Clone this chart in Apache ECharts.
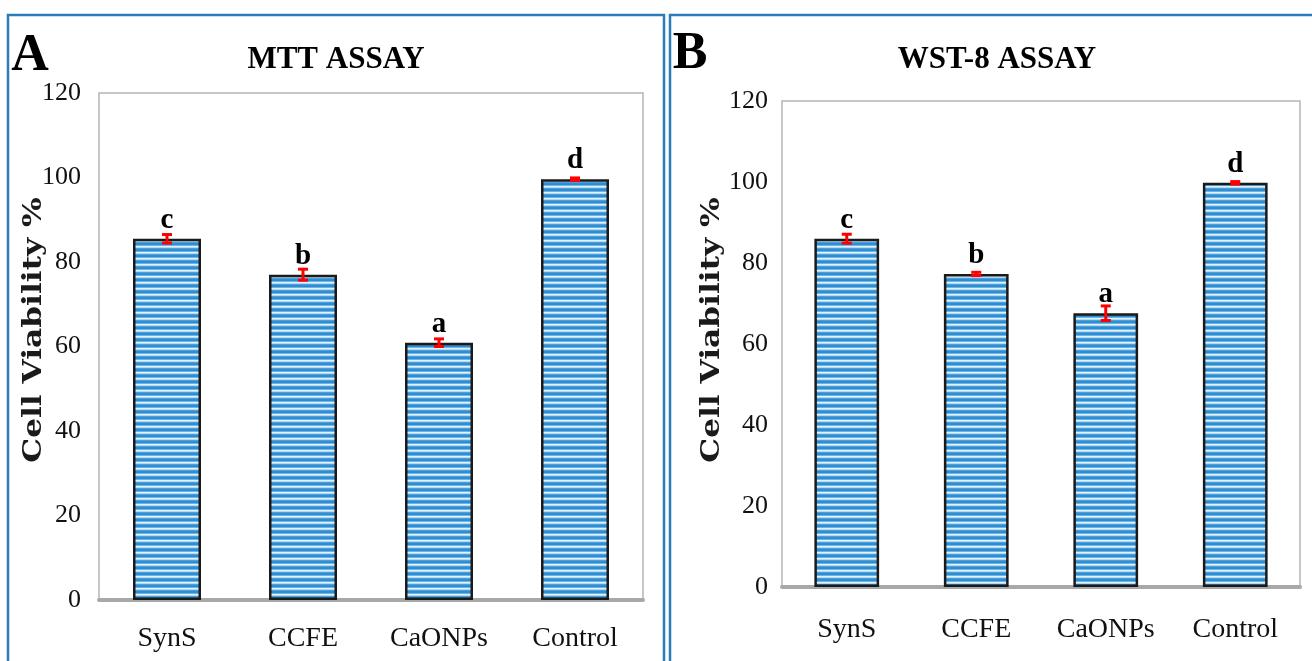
<!DOCTYPE html>
<html>
<head>
<meta charset="utf-8">
<script src="https://cdn.jsdelivr.net/npm/echarts@6/dist/echarts.min.js"></script>
<style>
html,body{margin:0;padding:0;background:#fff;}
#chart{width:1312px;height:661px;}
</style>
</head>
<body>
<div id="chart"></div>
<script>
// ---- data ----
var categories = ['SynS', 'CCFE', 'CaONPs', 'Control'];
var mttValues  = [85.5, 77.0, 60.9, 99.6];
var mttErrors  = [1.0, 1.3, 0.9, 0.3];
var mttLetters = ['c', 'b', 'a', 'd'];
var wstValues  = [86.0, 77.3, 67.6, 99.8];
var wstErrors  = [1.1, 0.4, 1.8, 0.3];
var wstLetters = ['c', 'b', 'a', 'd'];
var yMin = 0, yMax = 120, yStep = 20;
var panelTitles = ['MTT ASSAY', 'WST-8 ASSAY'];
var panelTags = ['A', 'B'];
var yTitle = 'Cell Viability %';

function makePattern() {
  var c = document.createElement('canvas');
  c.width = 4; c.height = 6;
  var g = c.getContext('2d');
  var rows = ['#e2f1fb', '#b2d9f2', '#4c9fda', '#2f8dd1', '#2f8dd1', '#6db3e3'];
  for (var i = 0; i < rows.length; i++) { g.fillStyle = rows[i]; g.fillRect(0, i, 4, 1); }
  return c;
}
var pattern = makePattern();

var serif = "'Liberation Serif', 'Times New Roman', serif";

function errRender(params, api) {
  var x = api.value(0), v = api.value(1), e = api.value(2);
  var t = api.coord([x, v + e]);
  var b = api.coord([x, v - e]);
  var hw = 5;
  var st = { stroke: '#ff0000', lineWidth: 3 };
  return {
    type: 'group',
    children: [
      { type: 'line', shape: { x1: t[0], y1: t[1], x2: b[0], y2: b[1] }, style: st },
      { type: 'line', shape: { x1: t[0] - hw, y1: t[1], x2: t[0] + hw, y2: t[1] }, style: st },
      { type: 'line', shape: { x1: b[0] - hw, y1: b[1], x2: b[0] + hw, y2: b[1] }, style: st }
    ]
  };
}

function yAxisCfg(gi, margin) {
  return {
    type: 'value', gridIndex: gi, min: yMin, max: yMax, interval: yStep,
    axisLine: { show: false }, axisTick: { show: false }, splitLine: { show: false },
    axisLabel: { fontFamily: serif, fontSize: 26, color: '#111', margin: margin }
  };
}
function xAxisCfg(gi, margin) {
  return {
    type: 'category', gridIndex: gi, data: categories,
    axisLine: { lineStyle: { color: '#a8a8a8', width: 4 } },
    axisTick: { show: false },
    axisLabel: { fontFamily: serif, fontSize: 28, color: '#111', margin: margin }
  };
}
function barSeries(gi, values, letters) {
  return {
    type: 'bar', xAxisIndex: gi, yAxisIndex: gi, data: values, barWidth: '50%',
    itemStyle: { color: { image: pattern, repeat: 'repeat' }, borderColor: '#1a1a1a', borderWidth: 2.5 },
    label: {
      show: true, position: 'top', distance: 4,
      fontFamily: serif, fontWeight: 'bold', fontSize: 29, color: '#000',
      formatter: function (p) { return letters[p.dataIndex]; }
    }
  };
}
function errSeries(gi, values, errors) {
  return {
    type: 'custom', xAxisIndex: gi, yAxisIndex: gi, z: 10,
    renderItem: errRender,
    data: values.map(function (v, i) { return [i, v, errors[i]]; })
  };
}
function yTitleText(x, y) {
  return {
    type: 'text', x: x, y: y, rotation: Math.PI / 2, scaleX: 1.2,
    style: { text: yTitle, font: "bold 26px 'DejaVu Serif', serif", fill: '#1a1a1a', align: 'center', verticalAlign: 'middle' }
  };
}

var chart = echarts.init(document.getElementById('chart'));
chart.setOption({
  animation: false,
  backgroundColor: '#fff',
  grid: [
    { left: 99, top: 93, width: 544, height: 507, show: true, borderColor: '#b5b5b5', borderWidth: 1.5, backgroundColor: '#fff' },
    { left: 782, top: 101, width: 518, height: 486, show: true, borderColor: '#b5b5b5', borderWidth: 1.5, backgroundColor: '#fff' }
  ],
  xAxis: [xAxisCfg(0, 25), xAxisCfg(1, 29)],
  yAxis: [yAxisCfg(0, 18), yAxisCfg(1, 14)],
  series: [
    barSeries(0, mttValues, mttLetters),
    errSeries(0, mttValues, mttErrors),
    barSeries(1, wstValues, wstLetters),
    errSeries(1, wstValues, wstErrors)
  ],
  graphic: [
    { type: 'rect', shape: { x: 8, y: 15, width: 656, height: 700 }, style: { fill: 'none', stroke: '#2a7db8', lineWidth: 2.5 }, silent: true },
    { type: 'rect', shape: { x: 670, y: 15, width: 700, height: 700 }, style: { fill: 'none', stroke: '#2a7db8', lineWidth: 2.5 }, silent: true },
    { type: 'text', x: 30, y: 57, style: { text: panelTags[0], font: 'bold 52px ' + serif, fill: '#000', align: 'center', verticalAlign: 'middle' } },
    { type: 'text', x: 690, y: 55, style: { text: panelTags[1], font: 'bold 52px ' + serif, fill: '#000', align: 'center', verticalAlign: 'middle' } },
    { type: 'text', x: 336, y: 60, style: { text: panelTitles[0], font: 'bold 31px ' + serif, fill: '#000', align: 'center', verticalAlign: 'middle' } },
    { type: 'text', x: 997, y: 60, style: { text: panelTitles[1], font: 'bold 31px ' + serif, fill: '#000', align: 'center', verticalAlign: 'middle' } },
    yTitleText(34, 330),
    yTitleText(712, 330)
  ]
});
</script>
</body>
</html>
